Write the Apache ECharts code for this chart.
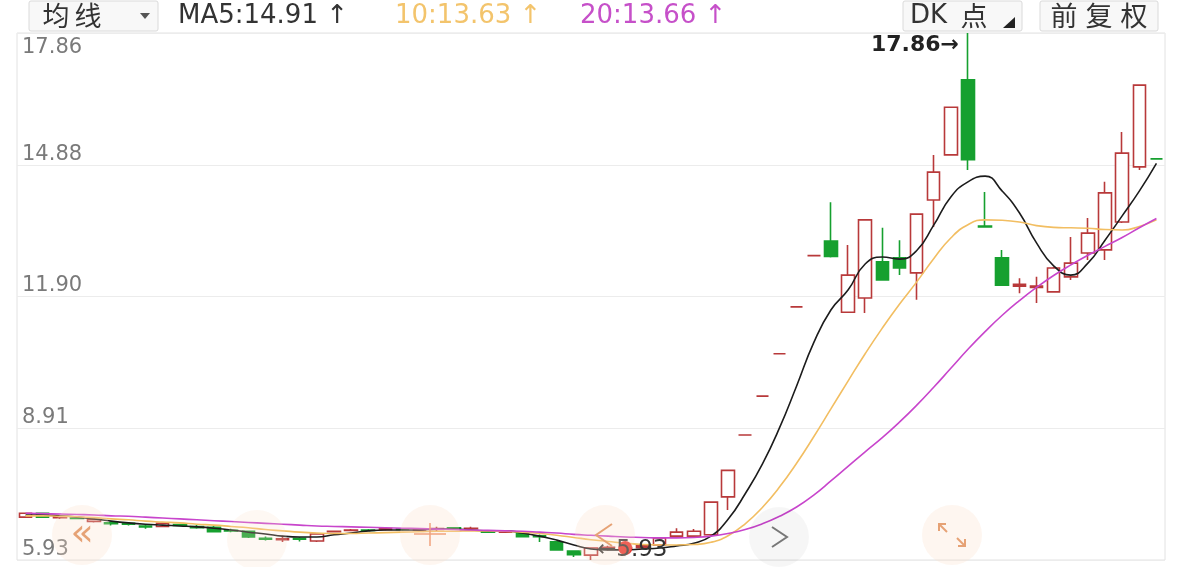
<!DOCTYPE html>
<html><head><meta charset="utf-8">
<script src="https://cdn.jsdelivr.net/npm/echarts@6/dist/echarts.min.js"></script>
<style>html,body{margin:0;padding:0;background:#fff;}#c{width:1182px;height:567px;}</style>
</head><body><div id="c"></div>
<script>
// ---- data ----
const categories = ['1','2','3','4','5','6','7','8','9','10','11','12','13','14','15','16','17','18','19','20',
  '21','22','23','24','25','26','27','28','29','30','31','32','33','34','35','36','37','38','39','40',
  '41','42','43','44','45','46','47','48','49','50','51','52','53','54','55','56','57','58','59','60',
  '61','62','63','64','65','66','67'];
const openVals  = [6.90,6.99,6.89,6.88,6.80,6.77,6.76,6.70,6.69,6.73,6.69,6.67,6.60,6.58,6.42,6.39,6.42,6.36,6.57,6.60,
  6.61,6.62,6.63,6.61,6.62,6.66,6.64,6.57,6.56,6.54,6.48,6.34,6.13,6.04,6.20,6.19,6.21,6.27,6.47,6.47,
  6.50,7.36,8.76,9.64,10.60,11.66,12.82,13.15,11.54,11.86,12.68,12.77,12.43,14.08,15.10,16.80,13.49,12.77,12.13,12.10,
  12.00,12.34,12.88,12.95,13.58,14.83,15.01];
const closeVals = [6.99,6.90,6.91,6.87,6.85,6.75,6.74,6.68,6.76,6.71,6.66,6.57,6.59,6.45,6.40,6.41,6.40,6.52,6.58,6.61,
  6.60,6.64,6.62,6.62,6.64,6.63,6.65,6.56,6.57,6.46,6.46,6.16,6.05,6.20,6.22,6.21,6.25,6.43,6.56,6.58,
  7.24,7.96,8.76,9.64,10.60,11.66,12.82,12.80,12.38,13.63,12.27,12.54,13.76,14.71,16.18,14.99,13.47,12.15,12.17,12.13,
  12.54,12.65,13.33,14.24,15.14,16.68,15.01];
const lowVals   = [6.88,6.88,6.86,6.86,6.78,6.71,6.71,6.64,6.67,6.70,6.64,6.55,6.56,6.43,6.37,6.34,6.35,6.34,6.55,6.58,
  6.58,6.60,6.60,6.59,6.58,6.62,6.63,6.55,6.55,6.45,6.34,6.14,6.00,5.93,6.15,6.16,6.18,6.25,6.43,6.45,
  6.48,7.06,8.76,9.64,10.60,11.66,12.82,12.78,11.54,11.52,12.25,12.38,11.82,13.47,15.10,14.76,13.47,12.13,11.97,11.75,
  12.00,12.27,12.72,12.72,13.56,14.76,15.01];
const highVals  = [7.00,7.00,6.95,6.90,6.87,6.80,6.79,6.73,6.78,6.74,6.72,6.70,6.64,6.60,6.46,6.48,6.45,6.53,6.60,6.63,
  6.63,6.67,6.65,6.64,6.68,6.67,6.68,6.58,6.59,6.55,6.51,6.35,6.14,6.22,6.25,6.26,6.28,6.45,6.65,6.63,
  7.24,7.97,8.76,9.64,10.60,11.66,12.82,14.03,13.06,13.63,13.45,13.17,13.78,15.10,16.18,17.86,14.26,12.95,12.31,12.34,
  12.56,13.24,13.67,14.49,15.62,16.68,15.01];
const ma5  = [6.95,6.95,6.93,6.90,6.86,6.81,6.77,6.74,6.72,6.70,6.68,6.65,6.61,6.56,6.52,6.47,6.45,6.45,6.50,6.54,
  6.59,6.61,6.61,6.61,6.63,6.63,6.61,6.59,6.59,6.54,6.47,6.38,6.27,6.18,6.16,6.16,6.18,6.20,6.25,6.31,
  6.47,6.85,7.43,8.10,8.92,9.87,10.85,11.59,12.04,12.63,12.79,12.74,12.93,13.51,14.15,14.49,14.62,14.28,13.79,13.11,
  12.59,12.38,12.65,13.17,13.72,14.28,14.91];
const ma10 = [6.93,6.93,6.92,6.91,6.89,6.86,6.84,6.81,6.79,6.77,6.74,6.72,6.69,6.66,6.62,6.59,6.56,6.54,6.53,6.53,
  6.54,6.55,6.56,6.57,6.58,6.58,6.59,6.59,6.58,6.56,6.53,6.49,6.44,6.39,6.35,6.31,6.28,6.27,6.27,6.28,
  6.33,6.48,6.75,7.12,7.58,8.12,8.72,9.35,9.98,10.60,11.18,11.72,12.22,12.75,13.22,13.52,13.63,13.62,13.58,13.50,
  13.46,13.45,13.44,13.41,13.40,13.48,13.63];
const ma20 = [6.99,6.98,6.97,6.96,6.95,6.93,6.92,6.90,6.88,6.86,6.84,6.82,6.80,6.78,6.76,6.74,6.72,6.70,6.69,6.68,
  6.67,6.66,6.65,6.64,6.63,6.62,6.61,6.60,6.59,6.58,6.56,6.54,6.51,6.49,6.47,6.45,6.44,6.43,6.43,6.44,
  6.47,6.53,6.62,6.75,6.92,7.13,7.40,7.72,8.05,8.38,8.70,9.05,9.43,9.84,10.27,10.70,11.10,11.47,11.80,12.10,
  12.37,12.61,12.83,13.03,13.23,13.45,13.66];
const yTicks = [5.93, 8.91, 11.90, 14.88, 17.86];
const yTickLabels = ['5.93', '8.91', '11.90', '14.88', '17.86'];
const highIndex = 55, highLabel = '17.86→';
const lowIndex = 33, lowLabel = '←5.93';
const dotIndex = 35, dotValue = 6.20;

const candleData = openVals.map((o, i) => [o, closeVals[i], lowVals[i], highVals[i]]);
function nearestLabel(v) {
  let best = 0;
  for (let i = 1; i < yTicks.length; i++) if (Math.abs(yTicks[i] - v) < Math.abs(yTicks[best] - v)) best = i;
  return yTickLabels[best];
}
const yMin = yTicks[0], yMax = yTicks[yTicks.length - 1];
const yInt = (yMax - yMin) / (yTicks.length - 1);

const RED = '#b8393a', GREEN = '#16a02f';
const ICON = '#e6a275';
const chart = echarts.init(document.getElementById('c'));
const hdrFont = '26px "DejaVu Sans"';
const cjk = '27px "Noto Sans CJK SC"';
function hdrText(x, text, fill, align) {
  return { type: 'text', x: x, y: 16, style: { text: text, font: text.match(/[A-Z0-9]/) && !text.match(/[\u4e00-\u9fff]/) ? hdrFont : cjk,
    fill: fill, textAlign: align || 'left', textVerticalAlign: 'middle' } };
}
chart.setOption({
  animation: false,
  backgroundColor: '#ffffff',
  grid: { left: 17, right: 17, top: 33, bottom: 7, show: true, borderColor: '#e2e2e2', borderWidth: 1 },
  xAxis: { type: 'category', data: categories, boundaryGap: true,
    axisLine: { show: false }, axisTick: { show: false }, axisLabel: { show: false }, splitLine: { show: false } },
  yAxis: [
    { type: 'value', min: yMin, max: yMax, interval: yInt, position: 'left',
      axisLine: { show: false }, axisTick: { show: false },
      splitLine: { show: true, lineStyle: { color: '#ececec', width: 1 } },
      axisLabel: { inside: true, margin: 5, verticalAlign: 'bottom', color: '#7a7a7a', fontSize: 21,
        fontFamily: 'DejaVu Sans', showMaxLabel: false, formatter: v => nearestLabel(v) } },
    { type: 'value', min: yMin, max: yMax, interval: yInt, position: 'left',
      axisLine: { show: false }, axisTick: { show: false }, splitLine: { show: false },
      axisLabel: { inside: true, margin: 5, verticalAlign: 'top', padding: [4, 0, 0, 0], color: '#7a7a7a', fontSize: 21,
        fontFamily: 'DejaVu Sans', showMinLabel: false,
        formatter: v => (Math.abs(v - yMax) < 0.01 ? nearestLabel(v) : '') } }
  ],
  series: [
    { type: 'candlestick', data: candleData, barWidth: '76%',
      itemStyle: { color: '#ffffff', color0: GREEN, borderColor: RED, borderColor0: GREEN, borderWidth: 1.6 },
      markPoint: { symbolSize: 0, animation: false,
        data: [
          { coord: [highIndex, highVals[highIndex]], symbol: 'circle', symbolSize: 0,
            label: { show: true, formatter: highLabel, position: 'left', distance: 9, offset: [0, 12],
              color: '#222', fontSize: 22, fontFamily: 'DejaVu Sans', fontWeight: 'bold' } },
          { coord: [lowIndex, lowVals[lowIndex]], symbol: 'circle', symbolSize: 0,
            label: { show: true, formatter: lowLabel, position: 'right', distance: 6, offset: [0, -10],
              color: '#333', fontSize: 23, fontFamily: 'DejaVu Sans' } }
        ] } },
    { type: 'line', name: 'MA5', data: ma5, smooth: true, symbol: 'none', lineStyle: { color: '#1c1c1c', width: 1.6 }, z: 3 },
    { type: 'line', name: 'MA10', data: ma10, smooth: true, symbol: 'none', lineStyle: { color: '#f2be62', width: 1.6 }, z: 3 },
    { type: 'line', name: 'MA20', data: ma20, smooth: true, symbol: 'none', lineStyle: { color: '#c845cc', width: 1.6 }, z: 3,
      markPoint: { animation: false, data: [ { coord: [dotIndex, dotValue], symbol: 'circle', symbolSize: 14,
        itemStyle: { color: '#e8322c' }, label: { show: false } } ] } }
  ],
  graphic: [
    { type: 'rect', shape: { x: 29, y: 1, width: 129, height: 30, r: 2 }, style: { fill: '#f8f8f8', stroke: '#dadada', lineWidth: 1 } },
    hdrText(56, '均', '#333', 'center'),
    hdrText(88, '线', '#333', 'center'),
    { type: 'polygon', shape: { points: [[140, 13], [150, 13], [145, 19]] }, style: { fill: '#555' } },
    hdrText(178, 'MA5:14.91 ↑', '#333'),
    hdrText(395, '10:13.63 ↑', '#f3c46c'),
    hdrText(580, '20:13.66 ↑', '#c650c9'),
    { type: 'rect', shape: { x: 903, y: 1, width: 119, height: 30, r: 2 }, style: { fill: '#f8f8f8', stroke: '#dadada', lineWidth: 1 } },
    hdrText(910, 'DK', '#333'),
    hdrText(974, '点', '#333', 'center'),
    { type: 'polygon', shape: { points: [[1015, 17], [1015, 28], [1003, 28]] }, style: { fill: '#222' } },
    { type: 'rect', shape: { x: 1040, y: 1, width: 118, height: 30, r: 2 }, style: { fill: '#f8f8f8', stroke: '#dadada', lineWidth: 1 } },
    hdrText(1064, '前', '#333', 'center'),
    hdrText(1099, '复', '#333', 'center'),
    hdrText(1134, '权', '#333', 'center'),
    // overlay buttons
    { type: 'circle', z: 50, shape: { cx: 82, cy: 535, r: 30 }, style: { fill: 'rgba(250,222,200,0.28)' } },
    { type: 'text', z: 51, x: 82, y: 535, style: { text: '«', font: '38px "DejaVu Sans"', fill: ICON, textAlign: 'center', textVerticalAlign: 'middle' } },
    { type: 'circle', z: 50, shape: { cx: 257, cy: 540, r: 30 }, style: { fill: 'rgba(250,222,200,0.22)' } },
    { type: 'circle', z: 50, shape: { cx: 430, cy: 535, r: 30 }, style: { fill: 'rgba(250,222,200,0.28)' } },
    { type: 'line', z: 51, shape: { x1: 414, y1: 534, x2: 446, y2: 534 }, style: { stroke: '#f0a27e', lineWidth: 1.5 } },
    { type: 'line', z: 51, shape: { x1: 430, y1: 523, x2: 430, y2: 546 }, style: { stroke: '#f0a27e', lineWidth: 1.5 } },
    { type: 'circle', z: 50, shape: { cx: 605, cy: 535, r: 30 }, style: { fill: 'rgba(250,222,200,0.28)' } },
    { type: 'polyline', z: 51, shape: { points: [[612, 524], [596, 535], [612, 546]] }, style: { stroke: ICON, lineWidth: 2, fill: null } },
    { type: 'circle', z: 50, shape: { cx: 779, cy: 537, r: 30 }, style: { fill: 'rgba(0,0,0,0.035)' } },
    { type: 'polyline', z: 51, shape: { points: [[772, 527], [787, 537], [772, 547]] }, style: { stroke: '#777', lineWidth: 2, fill: null } },
    { type: 'circle', z: 50, shape: { cx: 952, cy: 535, r: 30 }, style: { fill: 'rgba(250,222,200,0.28)' } },
    { type: 'polyline', z: 51, shape: { points: [[939, 531], [939, 524], [946, 524]] }, style: { stroke: ICON, lineWidth: 2, fill: null } },
    { type: 'line', z: 51, shape: { x1: 939, y1: 524, x2: 947, y2: 532 }, style: { stroke: ICON, lineWidth: 2 } },
    { type: 'polyline', z: 51, shape: { points: [[965, 539], [965, 546], [958, 546]] }, style: { stroke: ICON, lineWidth: 2, fill: null } },
    { type: 'line', z: 51, shape: { x1: 965, y1: 546, x2: 957, y2: 538 }, style: { stroke: ICON, lineWidth: 2 } }
  ]
});
</script>
</body></html>
